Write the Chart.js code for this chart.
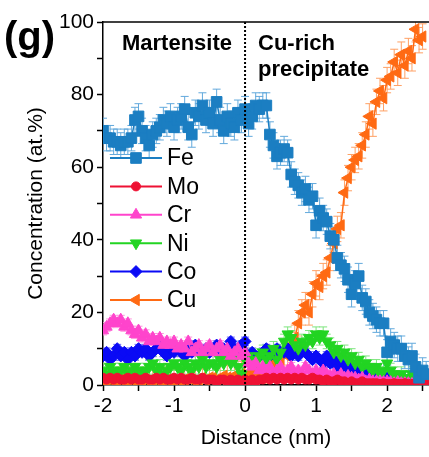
<!DOCTYPE html>
<html>
<head>
<meta charset="utf-8">
<script src="https://cdn.jsdelivr.net/npm/chart.js@4/dist/chart.umd.min.js"></script>
<style>
  html, body { margin: 0; padding: 0; background: #fff; }
  #wrap { width: 429px; height: 457px; }
</style>
</head>
<body>
<div id="wrap"><canvas id="chart" width="429" height="457"></canvas></div>
<script>
// profile across the martensite / Cu-rich precipitate interface
const distance = [
  -2, -1.95, -1.9, -1.85, -1.8, -1.75, -1.7, -1.65, -1.6, -1.55, -1.5,
  -1.45, -1.4, -1.35, -1.3, -1.25, -1.2, -1.15, -1.1, -1.05, -1,
  -0.95, -0.9, -0.85, -0.8, -0.75, -0.7, -0.65, -0.6, -0.55, -0.5,
  -0.45, -0.4, -0.35, -0.3, -0.25, -0.2, -0.15, -0.1, -0.05, 0,
  0.05, 0.1, 0.15, 0.2, 0.25, 0.3, 0.35, 0.4, 0.45, 0.5,
  0.55, 0.6, 0.65, 0.7, 0.75, 0.8, 0.85, 0.9, 0.95, 1,
  1.05, 1.1, 1.15, 1.2, 1.25, 1.3, 1.35, 1.4, 1.45, 1.5,
  1.55, 1.6, 1.65, 1.7, 1.75, 1.8, 1.85, 1.9, 1.95, 2,
  2.05, 2.1, 2.15, 2.2, 2.25, 2.3, 2.35, 2.4, 2.45, 2.5, 2.55
];

const fe = [
  70, 68, 68, 67, 67, 66, 67, 67, 68, 73, 74,
  70, 68, 66, 69, 70, 71, 73, 72, 74, 71,
  73, 74, 76, 71, 69, 75, 74, 77, 73, 75,
  72, 78, 73, 70, 74, 72, 71, 75, 73, 76,
  72, 74, 77, 76, 77, 77, 69, 66, 63, 64,
  65, 64, 58, 56, 55, 53, 54, 51, 52, 44,
  48, 46, 45, 41, 40, 35, 33, 32, 29, 25,
  28, 30, 24, 23, 20, 19, 18, 17, 17, 9,
  12, 11, 10, 10, 8, 7, 8, 5, 2, 4, 3
];
const mo = [
  2, 1.5, 2, 1.5, 2, 1.5, 1.5, 2, 1.5, 2, 1.5,
  1.5, 2, 1.5, 1.5, 2, 1.5, 2, 1.5, 1.5, 2,
  1.5, 2, 1.5, 1.5, 2, 1.5, 1.5, 2, 1.5, 1.5,
  1.5, 1, 1.5, 1.5, 1, 1.5, 1, 1.5, 1, 1.5,
  1, 1.5, 1, 1.5, 1.5, 2, 1.5, 2, 1.5, 2,
  1.5, 2, 1.5, 2, 1.5, 2, 1.5, 1.5, 2, 1.5,
  1.5, 1, 1.5, 1, 1, 1.5, 1, 1, 0.5, 1,
  0.5, 0.5, 1, 0.5, 0.5, 0.5, 0.5, 0.3, 0.5, 0.3,
  0.3, 0.5, 0.3, 0.3, 0.5, 0.3, 0.3, 0.2, 0.3, 0.2, 0.3
];
const cr = [
  15, 16, 17, 18, 17, 18, 16, 17, 15, 14, 15,
  13, 14, 12, 13, 12, 13, 11, 12, 11, 12,
  10, 11, 10, 12, 9, 10, 11, 9, 10, 11,
  9, 10, 11, 9, 10, 8, 9, 10, 8, 9,
  6, 5, 6, 4, 5, 4, 5, 3, 4, 5,
  3, 4, 5, 3, 4, 3, 5, 4, 3, 4,
  3, 4, 3, 2.5, 3, 2, 3, 2, 2.5, 2,
  2, 1.5, 2, 1, 1.5, 1, 1, 1, 0.8, 1,
  0.8, 0.5, 0.8, 0.5, 0.5, 0.5, 0.3, 0.5, 0.3, 0.5, 0.3
];
const ni = [
  4, 3, 5, 4, 3, 4, 5, 3, 4, 5, 4,
  3, 4, 5, 6, 4, 5, 3, 4, 5, 6,
  5, 4, 6, 5, 4, 6, 5, 7, 5, 6,
  6, 5, 7, 6, 8, 6, 7, 5, 3, 7,
  8, 7, 6, 8, 9, 7, 8, 10, 7, 9,
  12, 14, 13, 11, 10, 12, 11, 13, 12, 14,
  13, 14, 12, 11, 9, 10, 8, 9, 7, 8,
  6, 7, 5, 6, 5, 4, 5, 3, 4, 6,
  4, 3, 2, 3, 2, 2, 3, 2, 2, 1.5, 2
];
const co = [
  8, 9, 7, 8, 10, 8, 9, 7, 9, 8, 10,
  9, 10, 8, 9, 10, 11, 9, 8, 10, 9,
  10, 9, 8, 10, 9, 11, 10, 9, 10, 9,
  10, 11, 9, 10, 9, 12, 10, 9, 11, 12,
  8, 9, 7, 8, 9, 10, 8, 9, 10, 9,
  9, 10, 8, 9, 8, 10, 9, 8, 7, 8,
  7, 6, 8, 6, 7, 5, 6, 5, 4, 5,
  4, 3, 4, 3, 3, 2, 3, 2, 2, 2,
  1.5, 2, 1.5, 1, 1.5, 1, 1, 1, 1, 1, 1
];
const cu = [
  1, 1, 1.5, 1, 1, 1.5, 1, 1, 1.5, 1, 1,
  1, 1.5, 1, 1, 1.5, 1, 1, 1.5, 1, 1,
  1.5, 1, 1.5, 2, 1.5, 1, 1.5, 2, 1.5, 2,
  2, 1.5, 2, 2.5, 2, 2, 2.5, 2, 3, 2.5,
  3, 2.5, 4, 3, 5, 4, 6, 5, 7, 6,
  9, 8, 11, 13, 17, 20, 22, 20, 25, 28,
  27, 30, 31, 35, 39, 43, 44, 53, 57, 60,
  62, 63, 66, 69, 74, 72, 78, 81, 79, 84,
  85, 89, 86, 91, 88, 92, 90, 98, 95, 96
];

const seriesNames = ['Fe', 'Mo', 'Cr', 'Ni', 'Co', 'Cu'];
const seriesValues = [fe, mo, cr, ni, co, cu];
const errorSize = [3.5, 0.6, 1.2, 2, 1.2, 3.5];
const xTickValues = [-2, -1.5, -1, -0.5, 0, 0.5, 1, 1.5, 2, 2.5];
const xTickLabels = [-2, -1, 0, 1, 2];
const yTickLabels = [0, 20, 40, 60, 80, 100];

const COLORS = ['#1b7ec2', '#ee1133', '#ff44cc', '#22d422', '#0a0af5', '#ff6a13'];
const ERR_COLORS = ['#62a9dc', '#f5707f', '#ff95de', '#7ee57e', '#6b6bf8', '#ffa064'];
const STYLES = [
  { pointStyle: 'rect', rotation: 0, radius: 7.5 },
  { pointStyle: 'circle', rotation: 0, radius: 4.5 },
  { pointStyle: 'triangle', rotation: 0, radius: 6.5 },
  { pointStyle: 'triangle', rotation: 180, radius: 6.5 },
  { pointStyle: 'rectRot', rotation: 0, radius: 6 },
  { pointStyle: 'triangle', rotation: 270, radius: 6.5 },
];

const FONT = 'Arial, "Liberation Sans", Helvetica, sans-serif';

// vertical error bars with caps, drawn under the markers
const errorBars = {
  id: 'errorBars',
  beforeDatasetsDraw(chart) {
    const { ctx, chartArea, scales: { x, y } } = chart;
    ctx.save();
    ctx.beginPath();
    ctx.rect(chartArea.left, chartArea.top, chartArea.right - chartArea.left, chartArea.bottom - chartArea.top);
    ctx.clip();
    ctx.lineWidth = 1;
    for (let di = chart.data.datasets.length - 1; di >= 0; di--) {
      const ds = chart.data.datasets[di];
      ctx.strokeStyle = ds.errColor;
      ds.data.forEach(p => {
        const px = x.getPixelForValue(p.x);
        const t = y.getPixelForValue(p.y + ds.err);
        const b = y.getPixelForValue(p.y - ds.err);
        ctx.beginPath();
        ctx.moveTo(px, t); ctx.lineTo(px, b);
        ctx.moveTo(px - 4, t); ctx.lineTo(px + 4, t);
        ctx.moveTo(px - 4, b); ctx.lineTo(px + 4, b);
        ctx.stroke();
      });
    }
    ctx.restore();
  }
};

// frame top, dotted interface line, labels and the inset legend
const decorations = {
  id: 'decorations',
  afterDraw(chart) {
    const { ctx, chartArea: a, scales: { x, y } } = chart;
    ctx.save();

    ctx.strokeStyle = '#000';
    ctx.lineWidth = 1.5;
    ctx.beginPath();
    ctx.moveTo(a.left, a.top); ctx.lineTo(a.right, a.top);
    ctx.stroke();

    const x0 = x.getPixelForValue(0);
    ctx.lineWidth = 2;
    ctx.setLineDash([2, 2]);
    ctx.beginPath();
    ctx.moveTo(x0, a.top); ctx.lineTo(x0, a.bottom);
    ctx.stroke();
    ctx.setLineDash([]);

    ctx.fillStyle = '#000';
    ctx.textBaseline = 'alphabetic';
    ctx.textAlign = 'left';
    ctx.font = 'bold 40px ' + FONT;
    ctx.fillText('(g)', 4, 50);

    ctx.font = 'bold 22px ' + FONT;
    ctx.fillText('Martensite', 122, 50);
    ctx.fillText('Cu-rich', 258, 50);
    ctx.fillText('precipitate', 258, 76);

    // legend
    const helpers = Chart.helpers;
    ctx.font = '23px ' + FONT;
    ctx.textBaseline = 'middle';
    chart.data.datasets.forEach((ds, i) => {
      const ly = 158 + i * 28.4;
      ctx.strokeStyle = ds.borderColor;
      ctx.lineWidth = 2;
      ctx.beginPath();
      ctx.moveTo(110, ly); ctx.lineTo(162, ly);
      ctx.stroke();
      ctx.fillStyle = ds.backgroundColor;
      ctx.lineWidth = 1;
      helpers.drawPoint(ctx, {
        pointStyle: ds.pointStyle, rotation: ds.pointRotation,
        radius: ds.pointRadius, borderWidth: 1
      }, 136, ly);
      ctx.fillStyle = '#000';
      ctx.fillText(ds.label, 167, ly + 1);
    });

    ctx.restore();
  }
};

const datasets = seriesNames.map((name, i) => ({
  label: name,
  data: distance.map((d, j) => ({ x: d, y: seriesValues[i][j] })),
  borderColor: COLORS[i],
  backgroundColor: COLORS[i],
  borderWidth: 1.5,
  pointStyle: STYLES[i].pointStyle,
  pointRotation: STYLES[i].rotation,
  pointRadius: STYLES[i].radius,
  pointBorderWidth: 1,
  err: errorSize[i],
  errColor: ERR_COLORS[i],
}));

new Chart(document.getElementById('chart'), {
  type: 'line',
  data: { datasets },
  options: {
    responsive: false,
    animation: false,
    events: [],
    // no auto padding for the big markers, the frame is fixed by hand
    layout: { autoPadding: false, padding: { top: 22, right: 0, left: 0, bottom: 0 } },
    plugins: { legend: { display: false }, tooltip: { enabled: false } },
    scales: {
      x: {
        type: 'linear',
        min: -2, max: 2.59,
        afterFit: s => { s.height = 72; s.paddingRight = 0; s.paddingLeft = 0; },
        afterBuildTicks: s => { s.ticks = xTickValues.map(v => ({ value: v })); },
        ticks: {
          autoSkip: false,
          maxRotation: 0,
          padding: 3,
          color: '#000',
          font: { family: FONT, size: 21 },
          callback: v => xTickLabels.includes(v) ? String(v) : '',
        },
        grid: { drawOnChartArea: false, drawTicks: true, tickLength: 6, color: '#000', tickWidth: 1.5 },
        border: { display: true, color: '#000', width: 1.5 },
        title: { display: true, text: 'Distance (nm)', color: '#000', font: { family: FONT, size: 21 }, padding: 6 },
      },
      y: {
        min: 0, max: 100,
        afterFit: s => { s.width = 103; s.paddingTop = 0; s.paddingBottom = 0; },
        ticks: {
          stepSize: 10,
          autoSkip: false,
          padding: 3,
          color: '#000',
          font: { family: FONT, size: 21 },
          callback: v => yTickLabels.includes(v) ? String(v) : '',
        },
        grid: { drawOnChartArea: false, drawTicks: true, tickLength: 6, color: '#000', tickWidth: 1.5 },
        border: { display: true, color: '#000', width: 1.5 },
        title: { display: true, text: 'Concentration (at.%)', color: '#000', font: { family: FONT, size: 21 }, padding: 24 },
      }
    }
  },
  plugins: [errorBars, decorations]
});
</script>
</body>
</html>
